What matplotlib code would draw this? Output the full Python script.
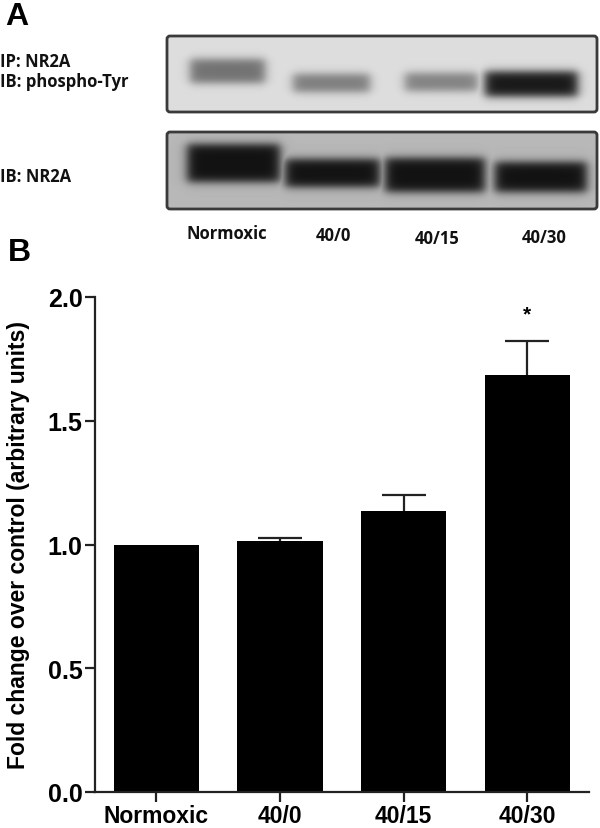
import numpy as np
import matplotlib
matplotlib.use("Agg")
import matplotlib.pyplot as plt
from matplotlib.patches import FancyBboxPatch

# ---------------- data ----------------
categories = ["Normoxic", "40/0", "40/15", "40/30"]
fold_change = [1.00, 1.015, 1.135, 1.685]
sem_upper = [0.0, 0.013, 0.063, 0.137]
significance = ["", "", "", "*"]
yticks = [0.0, 0.5, 1.0, 1.5, 2.0]
ylabel = "Fold change over control (arbitrary units)"

# blot band darkness (0 = none, 1 = black), per lane
band_phospho = [0.52, 0.47, 0.45, 0.95]
band_total = [0.97, 0.97, 0.97, 0.97]
blot_row_labels_top = ["IP: NR2A", "IB: phospho-Tyr"]
blot_row_label_bottom = "IB: NR2A"

# ---------------- figure ----------------
W, H = 600, 829
fig = plt.figure(figsize=(W / 100, H / 100), dpi=100)

# ---- Panel B: bar chart ----
ax = fig.add_axes([95 / W, 1 - 793 / H, (589 - 95) / W, (793 - 298) / H])
x = np.arange(len(categories))
ax.bar(x, fold_change, width=0.69, color="black", zorder=2)
cap_half = 0.178
for xi, v, e, s in zip(x, fold_change, sem_upper, significance):
    if e > 0:
        ax.vlines(xi, v, v + e, colors="#222222", linewidth=1.6, zorder=1)
        ax.hlines(v + e, xi - cap_half, xi + cap_half, colors="#222222",
                  linewidth=1.6, zorder=1)
    if s:
        ax.text(xi, v + e + 0.11, s, ha="center", va="center",
                fontsize=15, fontweight="bold", family="Liberation Sans")
ax.set_xlim(-0.495, 3.5)
ax.set_ylim(0, 2.0)
ax.set_yticks(yticks)
ax.set_yticklabels([f"{t:.1f}" for t in yticks])
ax.set_xticks(x)
ax.set_xticklabels(categories)
for sp in ["top", "right"]:
    ax.spines[sp].set_visible(False)
for sp in ["left", "bottom"]:
    ax.spines[sp].set_linewidth(1.6)
    ax.spines[sp].set_color("#222222")
ax.tick_params(axis="both", direction="out", length=7, width=1.6, color="#222222")
ax.tick_params(axis="y", pad=2)
ax.tick_params(axis="x", pad=1.5)
for lab in ax.get_yticklabels():
    lab.set_fontsize(18)
    lab.set_fontweight("bold")
    lab.set_family("Liberation Sans")
for lab in ax.get_xticklabels():
    lab.set_fontsize(16.5)
    lab.set_fontweight("bold")
    lab.set_family("Liberation Sans")
ax.set_ylabel(ylabel, fontsize=16.5, fontweight="bold", family="Liberation Sans")
ax.yaxis.set_label_coords(-(95 - 30) / (589 - 95), 0.5)

# ---- Panel A: blots (pixel-coordinate overlay) ----
axA = fig.add_axes([0, 1 - 262 / H, 1, 262 / H])
axA.set_xlim(0, W)
axA.set_ylim(262, 0)
axA.axis("off")


def smooth_box(c, lo, hi, s):
    return 0.5 * (np.tanh((c - lo) / s) - np.tanh((c - hi) / s))


lanes_top = [(190, 265, 72, 24), (293, 370, 84, 18), (405, 478, 83, 18), (485, 578, 85, 25)]
lanes_bot = [(187, 280, 164, 38), (285, 380, 174, 28), (385, 485, 176, 34), (495, 587, 178, 30)]


def blot(x0, x1, y0, y1, bg, lanes, darkness):
    xs = np.linspace(x0, x1, int((x1 - x0) * 2))
    ys = np.linspace(y0, y1, int((y1 - y0) * 2))
    X, Y = np.meshgrid(xs, ys)
    dark = np.zeros_like(X)
    for (lx0, lx1, cy, h), d in zip(lanes, darkness):
        m = smooth_box(X, lx0, lx1, 6.0) * smooth_box(Y, cy - h / 2, cy + h / 2, 5.0)
        dark = np.maximum(dark, d * m)
    img = bg * (1 - dark) + 0.05 * dark
    axA.imshow(img, cmap="gray", vmin=0, vmax=1, extent=[x0, x1, y1, y0],
               interpolation="bilinear", aspect="auto", zorder=1)
    frame = FancyBboxPatch((x0, y0), x1 - x0, y1 - y0,
                           boxstyle="round,pad=0,rounding_size=3",
                           fill=False, ec="#3a3a3a", lw=2.0, zorder=3)
    axA.add_patch(frame)


blot(167, 597, 37, 113, 0.87, lanes_top, band_phospho)
blot(167, 597, 133, 210, 0.72, lanes_bot, band_total)

lab_font = dict(family=["Open Sans", "DejaVu Sans"], fontsize=12, fontweight="bold",
                color="#111111")
axA.text(0, 62, blot_row_labels_top[0], ha="left", va="center", **lab_font)
axA.text(0, 82, blot_row_labels_top[1], ha="left", va="center", **lab_font)
axA.text(0, 177, blot_row_label_bottom, ha="left", va="center", **lab_font)

lane_centers = [227, 333, 437, 544]
lane_y = [234, 236, 239, 238]
for cx, cy, name in zip(lane_centers, lane_y, categories):
    axA.text(cx, cy, name, ha="center", va="center", **lab_font)

fig.text(5 / W, 1 - 2 / H, "A", ha="left", va="top", fontsize=23, fontweight="bold",
         family="Liberation Sans")
fig.text(8 / W, 1 - 238 / H, "B", ha="left", va="top", fontsize=23, fontweight="bold",
         family="Liberation Sans")

fig.savefig("out.png", dpi=100)
